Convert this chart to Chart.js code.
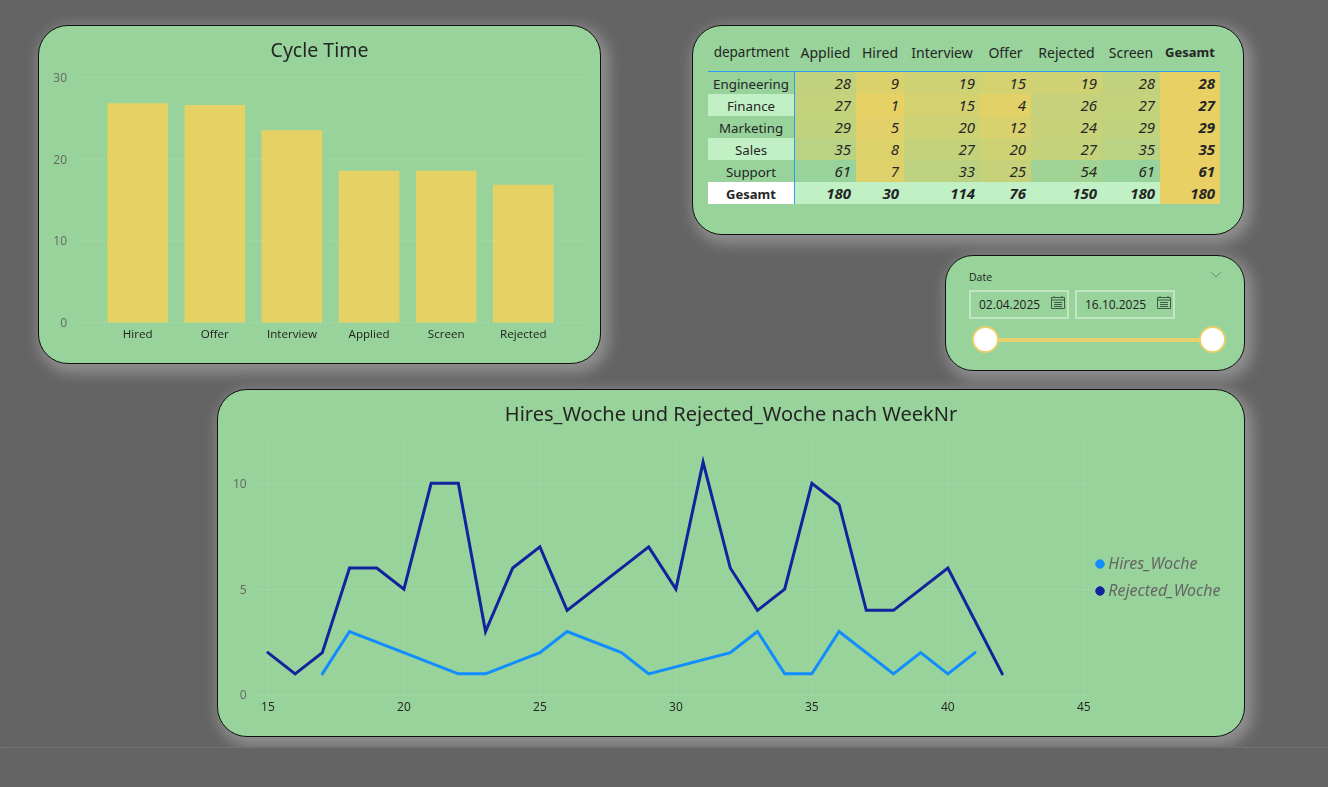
<!DOCTYPE html>
<html>
<head>
<meta charset="utf-8">
<title>Recruiting Dashboard</title>
<script src="https://cdn.jsdelivr.net/npm/chart.js@4"></script>
<style>
  html, body { margin: 0; padding: 0; width: 1328px; height: 787px; overflow: hidden; background: #646464; }
  .panel { position: absolute; box-sizing: border-box; background: #97d39a; border: 1px solid #111; box-shadow: 4px 5px 14px 4px rgba(180,180,180,.55); }
  canvas { position: absolute; left: -1px; top: -1px; }
  #pageEnd { position: absolute; left: 0; top: 747px; width: 1328px; height: 40px; background: #646464; border-top: 1px dotted #7c7c7c; box-sizing: border-box; }

  #matrix { position: absolute; left: 15px; top: 11px; border-collapse: separate; border-spacing: 0; table-layout: fixed; font-family: "Noto Sans", sans-serif; font-size: 14px; color: #252525; }
  #matrix th, #matrix td { padding: 0; overflow: hidden; white-space: nowrap; box-sizing: border-box; }
  #matrix thead th { height: 35px; padding-bottom: 4px; font-weight: normal; text-align: center; border-bottom: 1px solid #2a9df4; }
  #matrix thead th:first-child { font-size: 13.5px; }
  #matrix thead th.total { font-weight: bold; font-size: 13px; }
  #matrix tbody th { padding-top: 2px; font-weight: normal; font-size: 13.3px; text-align: center; border-right: 1px solid #2a9df4; height: 22px; }
  #matrix tbody td { text-align: right; padding-right: 5px; font-size: 15px; font-style: italic; height: 22px; }
  #matrix tbody td.total, #matrix tr.total td { font-weight: bold; }
  #matrix tr.total th { font-weight: bold; font-size: 13px; background: #fff; }

  #slicer { font-family: "Open Sans", sans-serif; color: #222; }
  #slicer .label { position: absolute; left: 23px; top: 14px; font-size: 10.5px; font-weight: 400; }
  #slicer .date { position: absolute; top: 34px; width: 100px; height: 29px; box-sizing: border-box; border: 2px solid #c3e5c3; font-size: 12px; line-height: 25px; padding-left: 8px; }
  #slicer svg { position: absolute; }
  #slicer .track { position: absolute; left: 39px; top: 82px; width: 228px; height: 4px; background: #e8d06c; }
  #slicer .thumb { position: absolute; top: 70px; width: 27px; height: 27px; box-sizing: border-box; border: 2px solid #e8d06c; border-radius: 50%; background: #fff; }
</style>
</head>
<body>
<div class="panel" style="left:38px;top:25px;width:563px;height:339px;border-radius:30px"><canvas id="barChart" width="563" height="339"></canvas></div>
<div class="panel" style="left:692px;top:25px;width:552px;height:210px;border-radius:30px"><table id="matrix"></table></div>
<div class="panel" id="slicer" style="left:945px;top:255px;width:300px;height:116px;border-radius:28px">
  <div class="label">Date</div>
  <svg style="left:264px;top:15px" width="12" height="8" viewBox="0 0 12 8"><path d="M1 1 L6 6 L11 1" fill="none" stroke="#6f8f70" stroke-width="1"/></svg>
  <div class="date" style="left:23px"><span id="dateFrom"></span></div>
  <div class="date" style="left:129px"><span id="dateTo"></span></div>
  <svg style="left:105px;top:40px" width="14" height="13" viewBox="0 0 14 13"><path d="M.5 1.5h13v11H.5z M.5 4h13 M3 6.5h8 M3 8.5h8 M3 10.5h8 M3 0v2 M11 0v2" fill="none" stroke="#3c5a44" stroke-width="1"/></svg>
  <svg style="left:211px;top:40px" width="14" height="13" viewBox="0 0 14 13"><path d="M.5 1.5h13v11H.5z M.5 4h13 M3 6.5h8 M3 8.5h8 M3 10.5h8 M3 0v2 M11 0v2" fill="none" stroke="#3c5a44" stroke-width="1"/></svg>
  <div class="track"></div>
  <div class="thumb" style="left:26px"></div>
  <div class="thumb" style="left:253px"></div>
</div>
<div class="panel" style="left:217px;top:389px;width:1028px;height:348px;border-radius:30px"><canvas id="lineChart" width="1028" height="348"></canvas></div>
<div id="pageEnd"></div>

<script>
// Cycle Time
const stageNames = ['Hired', 'Offer', 'Interview', 'Applied', 'Screen', 'Rejected'];
const cycleDays = [26.8, 26.6, 23.5, 18.55, 18.55, 16.85];

// Matrix
const matrixColumns = ['Applied', 'Hired', 'Interview', 'Offer', 'Rejected', 'Screen'];
const departments = ['Engineering', 'Finance', 'Marketing', 'Sales', 'Support'];
const engineering = [28, 9, 19, 15, 19, 28];
const finance = [27, 1, 15, 4, 26, 27];
const marketing = [29, 5, 20, 12, 24, 29];
const sales = [35, 8, 27, 20, 27, 35];
const support = [61, 7, 33, 25, 54, 61];
const departmentTotals = [28, 27, 29, 35, 61];
const columnTotals = [180, 30, 114, 76, 150, 180];
const grandTotal = 180;

// Date slicer
const dateFrom = '02.04.2025';
const dateTo = '16.10.2025';

// Weekly line chart
const hiresWeeks = [17, 18, 20, 22, 23, 25, 26, 28, 29, 32, 33, 34, 35, 36, 38, 39, 40, 41];
const hiresWoche = [1, 3, 2, 1, 1, 2, 3, 2, 1, 2, 3, 1, 1, 3, 1, 2, 1, 2];
const rejectedWeeks = [15, 16, 17, 18, 19, 20, 21, 22, 23, 24, 25, 26, 29, 30, 31, 32, 33, 34, 35, 36, 37, 38, 40, 42];
const rejectedWoche = [2, 1, 2, 6, 6, 5, 10, 10, 3, 6, 7, 4, 7, 5, 11, 6, 4, 5, 10, 9, 4, 4, 6, 1];

const titleFont = 'Noto Sans';
const axisFont = 'Open Sans';
const gridColor = 'rgba(255,255,255,0.3)';

// heat colour of a matrix cell, yellow for low values and green for high ones
function heat(v) {
  const t = (v - 1) / 60;
  const low = [230, 209, 100], high = [151, 211, 154];
  const c = low.map((l, i) => Math.round(l + (high[i] - l) * t));
  return 'rgb(' + c.join(',') + ')';
}

function buildMatrix() {
  const widths = [87, 61, 48, 76, 51, 71, 58, 60];
  const rows = [engineering, finance, marketing, sales, support];
  let html = '<colgroup>' + widths.map(w => '<col style="width:' + w + 'px">').join('') + '</colgroup>';
  html += '<thead><tr><th>department</th>' + matrixColumns.map(c => '<th>' + c + '</th>').join('') + '<th class="total">Gesamt</th></tr></thead><tbody>';
  rows.forEach((row, r) => {
    html += '<tr><th style="background:' + (r % 2 ? '#c2f0c5' : '#97d39a') + '">' + departments[r] + '</th>';
    row.forEach(v => { html += '<td style="background:' + heat(v) + '">' + v + '</td>'; });
    html += '<td class="total" style="background:#e8d064">' + departmentTotals[r] + '</td></tr>';
  });
  html += '<tr class="total"><th>Gesamt</th>';
  columnTotals.forEach(v => { html += '<td style="background:#c2f0c5">' + v + '</td>'; });
  html += '<td style="background:#e8d064">' + grandTotal + '</td></tr></tbody>';
  document.getElementById('matrix').innerHTML = html;
}
buildMatrix();
document.getElementById('dateFrom').textContent = dateFrom;
document.getElementById('dateTo').textContent = dateTo;

// the right padding of the layout would push the title off centre
const centerTitle = {
  id: 'centerTitle',
  afterLayout(chart) {
    chart.titleBlock.left = 0;
    chart.titleBlock.right = chart.width;
  }
};

// moves the legend off the plot, into the free space on the right
const legendPlace = {
  id: 'legendPlace',
  afterLayout(chart) {
    const l = chart.legend;
    l.left = 871.75; l.right = 1020;
    l.top = 156; l.bottom = 240;
  }
};

new Chart(document.getElementById('barChart'), {
  type: 'bar',
  data: {
    datasets: [{
      data: stageNames.map((n, i) => ({ x: i, y: cycleDays[i] })),
      backgroundColor: '#e6d164',
      barThickness: 60
    }]
  },
  plugins: [centerTitle],
  options: {
    responsive: false,
    animation: false,
    layout: { padding: { right: 16 } },
    plugins: {
      legend: { display: false },
      tooltip: { enabled: false },
      title: {
        display: true,
        text: 'Cycle Time',
        color: '#252525',
        font: { family: titleFont, size: 19.5, weight: 'normal' },
        padding: { top: 14.3, bottom: 14.8 }
      }
    },
    scales: {
      x: {
        type: 'linear',
        offset: false,
        min: -0.8,
        max: 5.8,
        grid: { display: false, drawTicks: false },
        border: { display: false },
        afterFit: s => { s.height = 41.3; },
        ticks: {
          stepSize: 1,
          includeBounds: false,
          autoSkip: false,
          maxRotation: 0,
          padding: 5,
          color: '#222',
          font: { family: axisFont, size: 11.6 },
          callback: v => stageNames[v]
        }
      },
      y: {
        min: 0,
        max: 30,
        afterFit: s => { s.width = 38; },
        grid: { color: gridColor, drawTicks: false },
        border: { display: false, dash: [1, 3] },
        ticks: { stepSize: 10, padding: 9, labelOffset: 1, color: '#666', font: { family: axisFont, size: 12 } }
      }
    }
  }
});

new Chart(document.getElementById('lineChart'), {
  type: 'line',
  data: {
    datasets: [
      {
        label: 'Hires_Woche',
        data: hiresWeeks.map((w, i) => ({ x: w, y: hiresWoche[i] })),
        borderColor: '#118dff',
        backgroundColor: '#118dff'
      },
      {
        label: 'Rejected_Woche',
        data: rejectedWeeks.map((w, i) => ({ x: w, y: rejectedWoche[i] })),
        borderColor: '#12239e',
        backgroundColor: '#12239e'
      }
    ]
  },
  plugins: [centerTitle, legendPlace],
  options: {
    responsive: false,
    animation: false,
    elements: {
      point: { radius: 0 },
      line: { borderWidth: 3, tension: 0, borderCapStyle: 'round', borderJoinStyle: 'miter' }
    },
    layout: { padding: { right: 153 } },
    plugins: {
      tooltip: { enabled: false },
      title: {
        display: true,
        text: 'Hires_Woche und Rejected_Woche nach WeekNr',
        color: '#252525',
        font: { family: titleFont, size: 20, weight: 'normal' },
        padding: { top: 14, bottom: 14 }
      },
      legend: {
        position: 'chartArea',
        align: 'start',
        labels: {
          usePointStyle: true,
          pointStyle: 'circle',
          boxWidth: 0.5,
          boxHeight: 6,
          padding: 11,
          color: '#666',
          font: { family: 'Noto Sans', size: 16, style: 'italic' }
        }
      }
    },
    scales: {
      x: {
        type: 'linear',
        min: 14.55,
        max: 45.3,
        afterFit: s => { s.height = 42; },
        grid: { color: gridColor, drawTicks: false },
        border: { display: false, dash: [1, 3] },
        ticks: { stepSize: 5, includeBounds: false, padding: 5, maxRotation: 0, color: '#222', font: { family: axisFont, size: 12 } }
      },
      y: {
        min: 0,
        max: 12,
        afterFit: s => { s.width = 38.7; },
        grid: { color: gridColor, drawTicks: false },
        border: { display: false, dash: [1, 3] },
        ticks: { stepSize: 5, includeBounds: false, padding: 9, labelOffset: 1, color: '#666', font: { family: axisFont, size: 12 } }
      }
    }
  }
});
</script>
</body>
</html>
